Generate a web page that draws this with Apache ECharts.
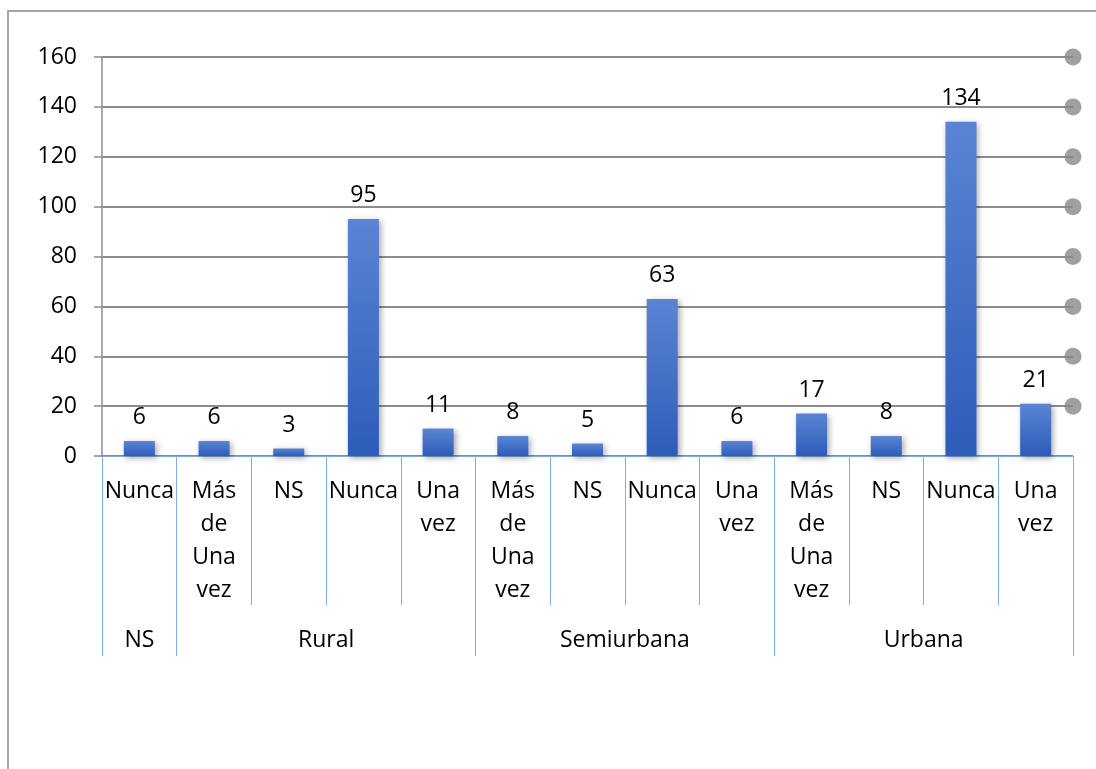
<!DOCTYPE html>
<html>
<head>
<meta charset="utf-8">
<script src="https://cdn.jsdelivr.net/npm/echarts@6/dist/echarts.min.js"></script>
<style>
html,body{margin:0;padding:0;background:#fff;}
#chart{width:1096px;height:769px;}
</style>
</head>
<body>
<div id="chart"></div>
<script>
// ---- data ----
var categories = ['Nunca', 'Más de Una vez', 'NS', 'Nunca', 'Una vez', 'Más de Una vez', 'NS', 'Nunca', 'Una vez', 'Más de Una vez', 'NS', 'Nunca', 'Una vez'];
var values = [6, 6, 3, 95, 11, 8, 5, 63, 6, 17, 8, 134, 21];
var groupNames = ['NS', 'Rural', 'Semiurbana', 'Urbana'];
var groupSizes = [1, 4, 4, 4];
var yTicks = [0, 20, 40, 60, 80, 100, 120, 140, 160];

// ---- derived ----
var boundaries = [0];
var centers = [];
var centerNames = {};
groupSizes.forEach(function (s, i) {
  var start = boundaries[boundaries.length - 1];
  boundaries.push(start + s);
  var c = start + s / 2;
  centers.push(c);
  centerNames[c] = groupNames[i];
});
var nCat = categories.length;

var FONT = '"Open Sans", "Liberation Sans", sans-serif';
var GRID = '#8c8c8c';
var BLUE_LINE = '#7eaee2';
var TXT = '#000';

var chart = echarts.init(document.getElementById('chart'));
chart.setOption({
  animation: false,
  backgroundColor: '#fff',
  graphic: [{
    type: 'rect',
    shape: { x: 8, y: 11, width: 1300, height: 1000 },
    style: { fill: 'none', stroke: '#a6a6a6', lineWidth: 2 },
    z: -10
  }],
  grid: { left: 102, right: 23, top: 57, bottom: 313 },
  xAxis: [{
    type: 'category',
    data: categories,
    axisLine: { show: true, lineStyle: { color: BLUE_LINE, width: 1 } },
    axisTick: { show: true, length: 149, lineStyle: { color: BLUE_LINE, width: 1 } },
    axisLabel: {
      interval: 0,
      margin: 19,
      color: TXT,
      fontFamily: FONT,
      fontSize: 23,
      lineHeight: 33,
      formatter: function (v) { return v.split(' ').join('\n'); }
    },
    splitLine: { show: false }
  }, {
    type: 'value',
    position: 'bottom',
    min: 0,
    max: nCat,
    axisLine: { show: false },
    axisTick: { show: true, length: 200, customValues: boundaries, lineStyle: { color: BLUE_LINE, width: 1 } },
    axisLabel: {
      show: true,
      customValues: centers,
      margin: 173,
      color: TXT,
      fontFamily: FONT,
      fontSize: 23,
      formatter: function (v) { return centerNames[v] || ''; }
    },
    splitLine: { show: false }
  }],
  yAxis: {
    type: 'value',
    min: 0,
    max: 160,
    interval: 20,
    axisLine: { show: true, lineStyle: { color: GRID, width: 1.5 } },
    axisTick: { show: true, length: 8, lineStyle: { color: GRID, width: 1.5 } },
    axisLabel: { margin: 25, color: TXT, fontFamily: FONT, fontSize: 23 },
    splitLine: { show: true, lineStyle: { color: GRID, width: 2 } }
  },
  series: [{
    type: 'bar',
    data: values,
    xAxisIndex: 0,
    barWidth: 31,
    itemStyle: {
      color: new echarts.graphic.LinearGradient(0, 0, 0, 1, [
        { offset: 0, color: '#5b84d3' },
        { offset: 1, color: '#2d5cb9' }
      ]),
      shadowColor: 'rgba(0,0,0,0.35)',
      shadowBlur: 6,
      shadowOffsetX: 2,
      shadowOffsetY: 2
    },
    label: {
      show: true,
      position: 'top',
      distance: 12,
      color: TXT,
      fontFamily: FONT,
      fontSize: 23
    },
    z: 3
  }, {
    type: 'scatter',
    xAxisIndex: 1,
    clip: false,
    symbolSize: 17,
    itemStyle: { color: '#888888' },
    data: yTicks.filter(function (t) { return t > 0; }).map(function (t) { return [nCat, t]; }),
    z: 4
  }]
});
</script>
</body>
</html>
